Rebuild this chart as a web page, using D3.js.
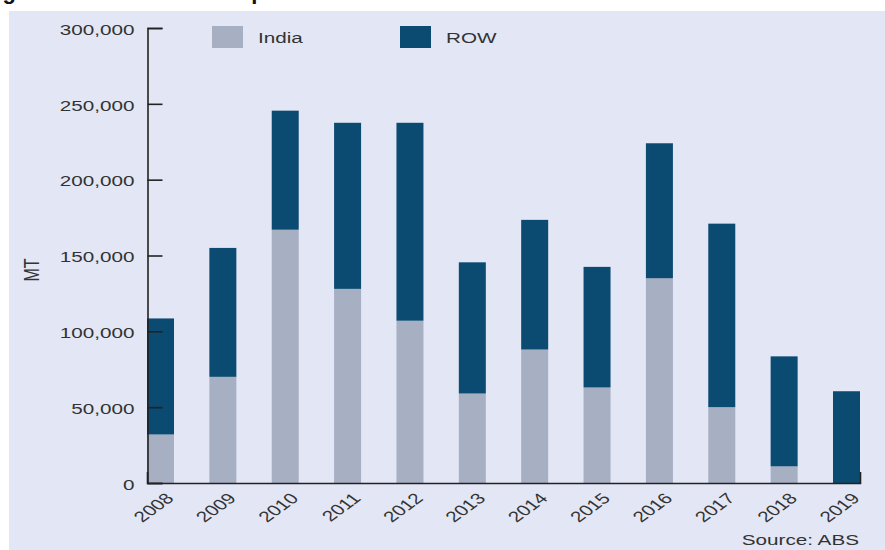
<!DOCTYPE html>
<html>
<head>
<meta charset="utf-8">
<script src="https://cdn.jsdelivr.net/npm/d3@7"></script>
<style>
  html, body { margin: 0; padding: 0; background: #ffffff; }
  svg { display: block; }
  text { font-family: "Liberation Sans", Arial, sans-serif; }
</style>
</head>
<body>
<svg id="chart" width="885" height="550"></svg>
<script>
const years = ["2008","2009","2010","2011","2012","2013","2014","2015","2016","2017","2018","2019"];
const india = [32000, 70000, 167000, 128000, 107000, 59000, 88000, 63000, 135000, 50000, 11000, 0];
const row   = [76500, 85000, 78500, 109500, 130500, 86500, 85500, 79500, 89000, 121000, 72500, 60500];
const seriesNames = ["India", "ROW"];
const yTicks = [0, 50000, 100000, 150000, 200000, 250000, 300000];

const colors = { India: "#a7afc3", ROW: "#0b4a71" };
const SX = 1.38; // horizontal stretch of text, as in the reference

const svg = d3.select("#chart");

// panel background
svg.append("rect").attr("x", 9).attr("y", 11).attr("width", 876).attr("height", 539)
  .attr("fill", "#e3e7f5");

// title, cut off at the top edge as in the reference
svg.append("text").attr("x", -17).attr("y", -1)
  .attr("font-family", "'Liberation Serif', 'Times New Roman', serif")
  .attr("font-weight", "bold").attr("font-size", 22).attr("fill", "#111")
  .text("Figure 2: Australian chickpea trade");

const table = years.map((y, i) => ({ year: y, India: india[i], ROW: row[i] }));
const stack = d3.stack().keys(seriesNames)(table);

const x = d3.scaleBand().domain(years).range([147, 860]).paddingInner(0.567).paddingOuter(0).align(0);
const y = d3.scaleLinear().domain([0, 300000]).range([483, 28]);

// bars
svg.append("g").selectAll("g").data(stack).join("g")
  .attr("fill", d => colors[d.key])
  .selectAll("rect").data(d => d).join("rect")
  .attr("x", d => x(d.data.year))
  .attr("width", x.bandwidth())
  .attr("y", d => y(d[1]))
  .attr("height", d => y(d[0]) - y(d[1]));

// y axis
const yAxis = svg.append("g").attr("transform", "translate(147.5,0)")
  .call(d3.axisLeft(y).tickValues(yTicks).tickSize(-15).tickPadding(13)
        .tickFormat(d3.format(",")));
yAxis.select(".domain").attr("stroke", "#222").attr("stroke-width", 1.6);
yAxis.selectAll(".tick line").attr("stroke", "#222").attr("stroke-width", 1.6);
yAxis.selectAll(".tick text")
  .attr("font-size", 15).attr("fill", "#333")
  .attr("font-family", "'Liberation Sans', Arial, sans-serif")
  .attr("x", -13 / SX).attr("dy", "0.42em")
  .attr("transform", `scale(${SX},1)`);

// x axis
const xAxis = svg.append("g").attr("transform", "translate(0,483)")
  .call(d3.axisBottom(x).tickSizeInner(0).tickSizeOuter(-11).tickPadding(0));
xAxis.select(".domain").attr("stroke", "#222").attr("stroke-width", 1.6);
xAxis.selectAll(".tick text").remove();
svg.append("g").selectAll("text").data(years).join("text")
  .attr("transform", d => `translate(${x(d) + x.bandwidth() * 0.65},492) scale(${SX},1) rotate(-45)`)
  .attr("text-anchor", "end").attr("dy", "0.7em")
  .attr("font-size", 15).attr("fill", "#333")
  .text(d => d);

// y title
svg.append("text")
  .attr("transform", `translate(39,270) scale(${SX},1) rotate(-90)`)
  .attr("text-anchor", "middle").attr("font-size", 16).attr("fill", "#333")
  .text("MT");

// legend
const legendX = [212, 400];
const lg = svg.append("g").selectAll("g").data(seriesNames).join("g")
  .attr("transform", (d, i) => `translate(${legendX[i]},26)`);
lg.append("rect").attr("width", 31).attr("height", 22).attr("fill", d => colors[d]);
lg.append("text").attr("transform", `translate(46,17) scale(${SX},1)`)
  .attr("font-size", 15).attr("fill", "#333").text(d => d);

// source
svg.append("text").attr("transform", `translate(859,545) scale(${SX},1)`)
  .attr("text-anchor", "end").attr("font-size", 15).attr("fill", "#333")
  .text("Source: ABS");
</script>
</body>
</html>
